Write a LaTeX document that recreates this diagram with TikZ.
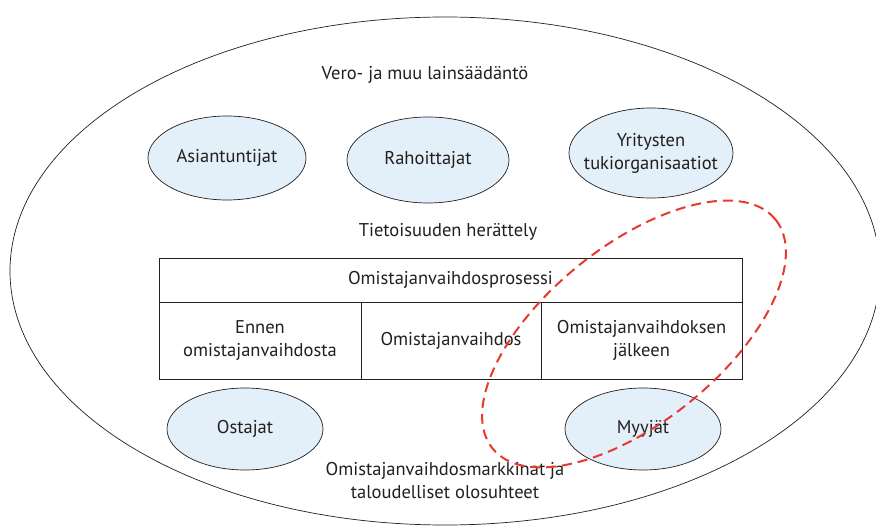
\documentclass[tikz,border=0pt]{standalone}
\usepackage{fontspec}
\setmainfont{PT Sans}
\usetikzlibrary{shapes.geometric,positioning}
\definecolor{cfill}{HTML}{E3EFF9}
\definecolor{cdash}{HTML}{E8392F}
\definecolor{ctext}{HTML}{231F20}

\begin{document}
\begin{tikzpicture}[x=1pt,y=-1pt,
    txt/.style={text=ctext,align=center,inner sep=0pt,
      font=\fontsize{18.5}{23}\selectfont},
    actor/.style={txt,draw=ctext,fill=cfill,ellipse,line width=0.7pt},
    cell/.style={txt,draw=ctext,rectangle,line width=0.9pt,outer sep=0pt,
      minimum height=77pt}]
  \useasboundingbox (0,0) rectangle (876,526);
  \clip (0,0) rectangle (876,526);
  \fill[white] (0,0) rectangle (876,526);
  % environment
  \node[draw=ctext,ellipse,line width=0.7pt,minimum width=870pt,
    minimum height=508pt] (env) at (445,271) {};
  \node[txt] (law) at (425,75) {Vero- ja muu lainsäädäntö};
  \node[txt] (aware) at (448,232) {Tietoisuuden herättely};
  \node[txt] (market) at (445,481) {Omistajanvaihdosmarkkinat ja\\taloudelliset olosuhteet};
  % actors
  \node[actor,minimum width=158pt,minimum height=84pt] (expert) at (227,158) {Asiantuntijat};
  \node[actor,minimum width=162pt,minimum height=86pt] (finance) at (428,160) {Rahoittajat};
  \node[actor,inner xsep=-30pt,inner ysep=-10pt,minimum width=164pt,
    minimum height=90pt] (support) at (651,153) {Yritysten\\tukiorganisaatiot};
  \node[actor,minimum width=156pt,minimum height=82pt] (buyer) at (245,429) {Ostajat};
  \node[actor,minimum width=156pt,minimum height=82pt] (seller) at (643,429) {Myyjät};
  % process table
  \node[cell,minimum width=583pt,minimum height=44pt] (proc) at (450.5,280) {Omistajanvaihdosprosessi};
  \node[cell,minimum width=202pt,below right=0pt and 0pt of proc.south west] (before) {Ennen\\omistajanvaihdosta};
  \node[cell,minimum width=180pt,right=0pt of before] (during) {Omistajanvaihdos};
  \node[cell,minimum width=201pt,right=0pt of during] (after) {Omistajanvaihdoksen\\jälkeen};
  % focus
  \node[draw=cdash,line width=2pt,dash pattern=on 10pt off 6pt,ellipse,
    minimum width=364pt,minimum height=176pt,rotate=39] (focus) at (634,334) {};
\end{tikzpicture}
\end{document}
